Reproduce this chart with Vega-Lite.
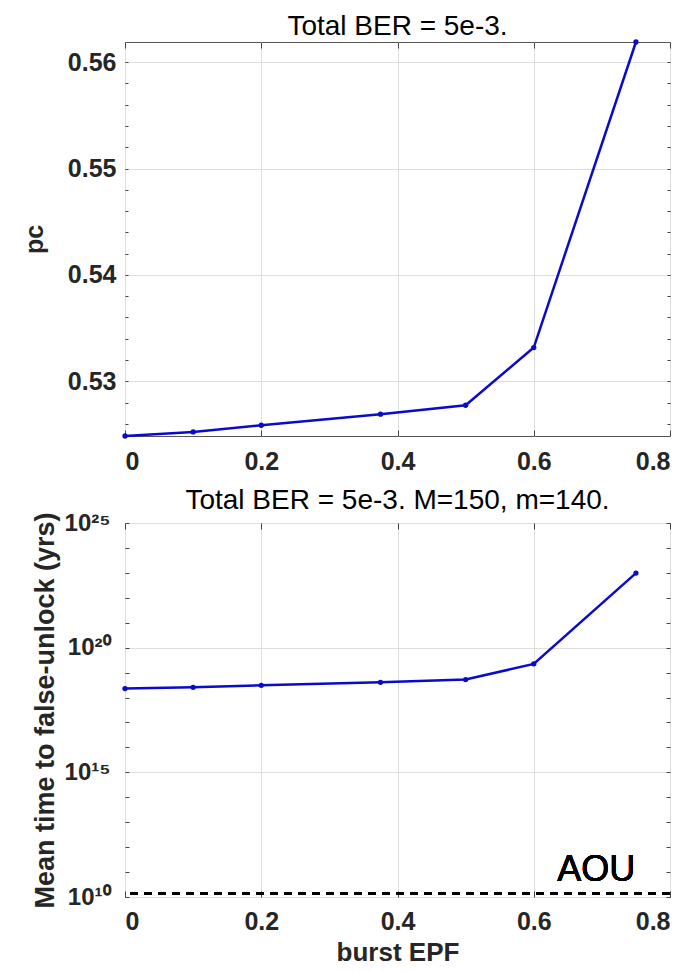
{
  "$schema": "https://vega.github.io/schema/vega-lite/v6.json",
  "padding": {"left": 21, "top": 12, "right": 0, "bottom": 0},
  "background": "white",
  "spacing": 11,
  "config": {
    "font": "Liberation Sans",
    "view": {"stroke": "#555555", "strokeWidth": 1},
    "title": {"font": "Liberation Sans", "fontSize": 28, "fontWeight": "normal", "color": "#000000"},
    "axis": {
      "labelFont": "Liberation Sans",
      "labelFontWeight": "bold",
      "labelFontSize": 25,
      "labelColor": "#262626",
      "titleFont": "Liberation Sans",
      "titleFontWeight": "bold",
      "titleFontSize": 27,
      "titleColor": "#262626",
      "gridColor": "#dedede",
      "gridWidth": 1,
      "domain": false,
      "tickColor": "#444444",
      "tickWidth": 1
    }
  },
  "vconcat": [
    {
      "width": 545,
      "height": 394,
      "title": {"text": "Total BER = 5e-3.", "offset": -4},
      "data": {"values": [
        {"epf": 0, "pc": 0.52485},
        {"epf": 0.1, "pc": 0.52523},
        {"epf": 0.2, "pc": 0.52586},
        {"epf": 0.375, "pc": 0.5269},
        {"epf": 0.5, "pc": 0.52774},
        {"epf": 0.6, "pc": 0.53317},
        {"epf": 0.75, "pc": 0.5619}
      ]},
      "layer": [
        {
          "mark": {"type": "line", "color": "#0a0acc", "strokeWidth": 2.5},
          "encoding": {
            "x": {"field": "epf", "type": "quantitative",
              "scale": {"domain": [0, 0.8], "nice": false, "zero": false},
              "axis": {"title": null, "values": [0, 0.2, 0.4, 0.6, 0.8], "tickSize": -6, "labelPadding": 19,
                "labelExpr": "datum.value == 0 ? '0' : format(datum.value, '.1f')"}},
            "y": {"field": "pc", "type": "quantitative",
              "scale": {"domain": [0.52485, 0.5619], "nice": false, "zero": false},
              "axis": {"title": "pc", "titleFontSize": 25, "titlePadding": 20,
                "values": [0.526, 0.528, 0.53, 0.532, 0.534, 0.536, 0.538, 0.54, 0.542, 0.544, 0.546, 0.548, 0.55, 0.552, 0.554, 0.556, 0.558, 0.56],
                "tickSize": -3, "labelPadding": 12,
                "gridOpacity": {"condition": {"test": "abs(datum.value*100 - round(datum.value*100)) < 0.001", "value": 1}, "value": 0},
                "labelExpr": "abs(datum.value*100 - round(datum.value*100)) < 0.001 ? format(datum.value, '.2f') : ''"}}
          }
        },
        {
          "mark": {"type": "point", "filled": true, "color": "#0a0acc", "size": 28, "opacity": 1},
          "encoding": {
            "x": {"field": "epf", "type": "quantitative",
              "axis": {"orient": "top", "title": null, "labels": false, "grid": false, "values": [0, 0.2, 0.4, 0.6, 0.8], "tickSize": -6}},
            "y": {"field": "pc", "type": "quantitative",
              "axis": {"orient": "right", "title": null, "labels": false, "grid": false, "tickSize": -3,
                "values": [0.526, 0.528, 0.53, 0.532, 0.534, 0.536, 0.538, 0.54, 0.542, 0.544, 0.546, 0.548, 0.55, 0.552, 0.554, 0.556, 0.558, 0.56]}}
          }
        }
      ],
      "resolve": {"axis": {"x": "independent", "y": "independent"}}
    },
    {
      "width": 545,
      "height": 374,
      "title": {"text": "Total BER = 5e-3. M=150, m=140.", "offset": -4},
      "data": {"values": [
        {"epf": 0, "t": 2.29e18},
        {"epf": 0.1, "t": 2.57e18},
        {"epf": 0.2, "t": 3.09e18},
        {"epf": 0.375, "t": 4.07e18},
        {"epf": 0.5, "t": 5.25e18},
        {"epf": 0.6, "t": 2.24e19},
        {"epf": 0.75, "t": 9.8e22}
      ]},
      "layer": [
        {
          "mark": {"type": "line", "color": "#0a0acc", "strokeWidth": 2.5},
          "encoding": {
            "x": {"field": "epf", "type": "quantitative",
              "scale": {"domain": [0, 0.8], "nice": false, "zero": false},
              "axis": {"title": "burst EPF", "titleFontSize": 26, "titlePadding": 5, "values": [0, 0.2, 0.4, 0.6, 0.8], "tickSize": -6, "labelPadding": 18,
                "labelExpr": "datum.value == 0 ? '0' : format(datum.value, '.1f')"}},
            "y": {"field": "t", "type": "quantitative",
              "scale": {"type": "log", "domain": [1e10, 1e25], "nice": false},
              "axis": {"title": "Mean time to false-unlock (yrs)", "titlePadding": 5,
                "values": [1e10, 1e11, 1e12, 1e13, 1e14, 1e15, 1e16, 1e17, 1e18, 1e19, 1e20, 1e21, 1e22, 1e23, 1e24, 1e25],
                "tickSize": -4, "labelPadding": 19, "labelFontSize": 24,
                "gridOpacity": {"condition": {"test": "round(log(datum.value)/LN10) % 5 == 0", "value": 1}, "value": 0},
                "labelExpr": "round(log(datum.value)/LN10) == 10 ? '10¹⁰' : round(log(datum.value)/LN10) == 15 ? '10¹⁵' : round(log(datum.value)/LN10) == 20 ? '10²⁰' : round(log(datum.value)/LN10) == 25 ? '10²⁵' : ''"}}
          }
        },
        {
          "mark": {"type": "point", "filled": true, "color": "#0a0acc", "size": 28, "opacity": 1},
          "encoding": {
            "x": {"field": "epf", "type": "quantitative",
              "axis": {"orient": "top", "title": null, "labels": false, "grid": false, "values": [0, 0.2, 0.4, 0.6, 0.8], "tickSize": -6}},
            "y": {"field": "t", "type": "quantitative",
              "axis": {"orient": "right", "title": null, "labels": false, "grid": false, "tickSize": -4,
                "values": [1e10, 1e11, 1e12, 1e13, 1e14, 1e15, 1e16, 1e17, 1e18, 1e19, 1e20, 1e21, 1e22, 1e23, 1e24, 1e25]}}
          }
        },
        {
          "mark": {"type": "rule", "color": "#000000", "strokeWidth": 2.5, "strokeDash": [8, 6]},
          "encoding": {"y": {"datum": 1.38e10, "type": "quantitative", "axis": null}}
        },
        {
          "mark": {"type": "text", "font": "Liberation Sans", "fontSize": 36, "fontWeight": "normal", "color": "#000000", "align": "right", "baseline": "middle"},
          "encoding": {
            "x": {"datum": 0.749, "type": "quantitative", "axis": null},
            "y": {"datum": 1.2e11, "type": "quantitative", "axis": null},
            "text": {"value": "AOU"}
          }
        }
      ],
      "resolve": {"axis": {"x": "independent", "y": "independent"}}
    }
  ]
}
